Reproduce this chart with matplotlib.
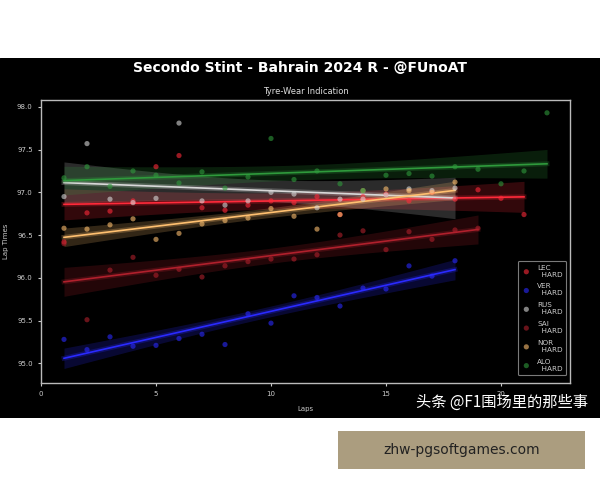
import matplotlib
matplotlib.use('Agg')
import matplotlib.pyplot as plt
from matplotlib.patches import Rectangle
import numpy as np

# lap times per driver (second stint)
drivers = ['LEC', 'VER', 'RUS', 'SAI', 'NOR', 'ALO']
compound = 'HARD'
colors = {'LEC': '#ff2a3a', 'VER': '#2a2aff', 'RUS': '#d8d8d8',
          'SAI': '#b0202c', 'NOR': '#ffc070', 'ALO': '#2f9a3c'}

lec_laps = list(range(1, 22))
lec_times = [96.42, 96.76, 96.78, 96.90, 97.30, 97.43, 96.82, 96.79, 96.85, 96.90, 96.88,
             96.95, 96.74, 96.95, 96.98, 96.90, 97.00, 96.92, 97.03, 96.93, 96.74]
ver_laps = list(range(1, 19))
ver_times = [95.28, 95.16, 95.31, 95.20, 95.21, 95.29, 95.34, 95.22, 95.58, 95.47, 95.79,
             95.77, 95.67, 95.88, 95.87, 96.14, 96.02, 96.20]
rus_laps = list(range(1, 19))
rus_times = [96.95, 97.57, 96.92, 96.88, 96.93, 97.81, 96.90, 96.85, 96.90, 97.00, 96.98,
             96.82, 96.92, 96.92, 96.97, 97.04, 97.02, 97.05]
sai_laps = list(range(1, 20))
sai_times = [96.40, 95.51, 96.09, 96.24, 96.03, 96.10, 96.01, 96.14, 96.19, 96.22, 96.22,
             96.27, 96.50, 96.55, 96.33, 96.54, 96.45, 96.56, 96.58]
nor_laps = list(range(1, 19))
nor_times = [96.58, 96.57, 96.62, 96.69, 96.45, 96.52, 96.63, 96.67, 96.70, 96.81, 96.72,
             96.57, 96.74, 97.02, 97.04, 97.02, 97.00, 97.12]
alo_laps = list(range(1, 23))
alo_times = [97.17, 97.30, 97.07, 97.25, 97.20, 97.11, 97.24, 97.05, 97.18, 97.63, 97.15,
             97.25, 97.10, 97.02, 97.20, 97.22, 97.19, 97.30, 97.27, 97.10, 97.25, 97.93]

series = {'LEC': (lec_laps, lec_times), 'VER': (ver_laps, ver_times),
          'RUS': (rus_laps, rus_times), 'SAI': (sai_laps, sai_times),
          'NOR': (nor_laps, nor_times), 'ALO': (alo_laps, alo_times)}

fig = plt.figure(figsize=(6, 4.8), dpi=100)
fig.patch.set_facecolor('white')

# black screenshot panel behind everything
bg = fig.add_axes([0, 62 / 480, 1, 360 / 480], zorder=-2)
bg.set_facecolor('black')
bg.set_axis_off()
bg.add_patch(Rectangle((0, 0), 1, 1, transform=bg.transAxes, color='black'))

ax = fig.add_axes([41 / 600, 1 - 383 / 480, 529 / 600, 283 / 480], zorder=1)
ax.set_facecolor('black')

for d in drivers:
    x = np.array(series[d][0], dtype=float)
    y = np.array(series[d][1], dtype=float)
    c = colors[d]
    ax.scatter(x, y, s=14, color=c, alpha=0.6, edgecolors='none', zorder=3,
               label=f'{d}\n  {compound}')
    # linear fit + 95% confidence band
    b, a = np.polyfit(x, y, 1)
    xs = np.linspace(x.min(), x.max(), 100)
    yh = a + b * xs
    resid = y - (a + b * x)
    s = np.sqrt(np.sum(resid ** 2) / (len(x) - 2))
    se = s * np.sqrt(1 / len(x) + (xs - x.mean()) ** 2 / np.sum((x - x.mean()) ** 2))
    ax.fill_between(xs, yh - 2.1 * se, yh + 2.1 * se, color=c, alpha=0.2, lw=0, zorder=1)
    ax.plot(xs, yh, color=c, lw=3.5, alpha=0.25, zorder=2)
    ax.plot(xs, yh, color=c, lw=1.2, zorder=2)

ax.set_xlim(0, 23)
ax.set_ylim(94.77, 98.08)
ax.set_xticks([0, 5, 10, 15, 20])
ax.set_yticks(np.arange(95.0, 98.01, 0.5))
ax.yaxis.set_major_formatter(matplotlib.ticker.FormatStrFormatter('%.1f'))
ax.tick_params(colors='#cccccc', labelsize=5, length=2.5, width=0.8)
for sp in ax.spines.values():
    sp.set_color('#bbbbbb')
    sp.set_linewidth(1)

ax.set_xlabel('Laps', color='#cccccc', fontsize=5, labelpad=6)
ax.set_ylabel('Lap Times', color='#cccccc', fontsize=5, labelpad=6)
ax.set_title('Tyre-Wear Indication', color='#dddddd', fontsize=6, pad=4)

leg = ax.legend(loc='lower right', fontsize=5.2, facecolor='black', edgecolor='#999999',
                labelcolor='#cccccc', markerscale=1.0, handletextpad=0.8,
                borderpad=0.5, labelspacing=0.8, handlelength=1.4,
                bbox_to_anchor=(1.0, 0.015))
leg.get_frame().set_linewidth(0.8)

fig.text(0.5, 1 - 68 / 480, 'Secondo Stint - Bahrain 2024 R - @FUnoAT', color='white',
         fontsize=10, fontweight='bold', ha='center', va='center')

# screenshot watermarks
fig.text(0.98, 1 - 402 / 480, '头条 @F1围场里的那些事', color='white', fontsize=11,
         ha='right', va='center', family=['Noto Sans CJK SC', 'DejaVu Sans'], zorder=5)
wm = fig.add_axes([338 / 600, 1 - 469 / 480, 247 / 600, 38 / 480], zorder=-1)
wm.set_facecolor('#ab9d7f')
wm.set_xticks([])
wm.set_yticks([])
for sp in wm.spines.values():
    sp.set_visible(False)
wm.text(0.5, 0.5, 'zhw-pgsoftgames.com', color='#222222', fontsize=10,
        ha='center', va='center', transform=wm.transAxes)

plt.savefig('out.png', dpi=100)
plt.close(fig)
